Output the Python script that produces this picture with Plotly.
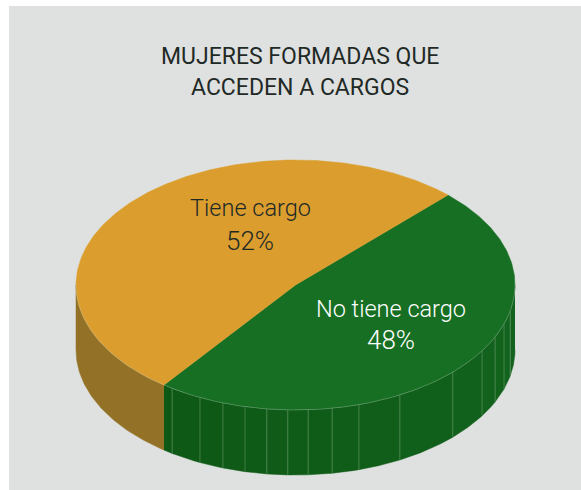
import numpy as np
import plotly.graph_objects as go

# Data
categories = ["No tiene cargo", "Tiene cargo"]
values = [48, 52]
title_lines = ["MUJERES FORMADAS QUE", "ACCEDEN A CARGOS"]

# Style
W, H = 581, 490
PANEL = "#dfe1e0"
TOP = ["#176f24", "#db9e2e"]
WALL_LEFT_GREEN = np.array([13, 88, 21])
WALL_RIGHT_GREEN = np.array([19, 100, 30])
WALL_ORANGE = "#937227"
FONT = "Roboto"
CX, CY, RX, RY, DEPTH = 295.5, 285.0, 219.5, 125.0, 65.0
START = 44.0  # clock angle (deg) of the first slice's start
FACET_ANGLES = [102, 108.2, 114.6, 121.8, 134.2, 151.6, 163.2, 170.4, 176.7,
                182, 187.5, 193.3, 199.3, 205.8, 214.2]


def pt(deg, dz=0.0):
    t = np.radians(np.asarray(deg, dtype=float))
    return CX + RX * np.sin(t), CY - RY * np.cos(t) + dz


spans = []
a = START
for v in values:
    b = a + v / sum(values) * 360
    spans.append((a, b))
    a = b

fig = go.Figure()


def poly(x, y, color):
    fig.add_trace(go.Scatter(x=x, y=y, mode="lines", fill="toself", fillcolor=color,
                             line=dict(width=0.5, color=color), hoverinfo="skip", showlegend=False))


def wall(lo, hi, color):
    th = np.linspace(lo, hi, 80)
    xt, yt = pt(th)
    xb, yb = pt(th, DEPTH)
    poly(np.r_[xt, xb[::-1]], np.r_[yt, yb[::-1]], color)


# Side walls (only the front half is visible)
green_start, green_end = spans[0]
edges = [90.0] + FACET_ANGLES + [green_end]
for lo, hi in zip(edges[:-1], edges[1:]):
    f = (0.5 * (lo + hi) - 90) / (green_end - 90)
    c = WALL_RIGHT_GREEN + (WALL_LEFT_GREEN - WALL_RIGHT_GREEN) * f
    wall(lo, hi, "rgb({:.0f},{:.0f},{:.0f})".format(*c))
wall(green_end, 270, WALL_ORANGE)

# Facet seams on the green wall
for deg in FACET_ANGLES:
    x0, y0 = pt(deg)
    x1, y1 = pt(deg, DEPTH)
    fig.add_trace(go.Scatter(x=[x0, x1], y=[y0, y1], mode="lines",
                             line=dict(color="rgba(170,200,170,0.32)", width=1),
                             hoverinfo="skip", showlegend=False))

# Top slices
for (a, b), top in zip(spans, TOP):
    th = np.linspace(a, b, 240)
    xt, yt = pt(th)
    poly(np.r_[CX, xt, CX], np.r_[CY, yt, CY], top)

# Thin light rim along the front edge of the top face
th = np.linspace(90, 270, 300)
xt, yt = pt(th)
fig.add_trace(go.Scatter(x=xt, y=yt, mode="lines",
                         line=dict(color="rgba(190,205,190,0.5)", width=0.6),
                         hoverinfo="skip", showlegend=False))

# Title, two lines
annotations = [
    dict(x=299.5, y=y, text=t, font=dict(family=FONT, size=23, weight=400, color="#1f2a27"))
    for t, y in zip(title_lines, [56, 87])
]
# Slice labels: name and share on separate rows
DARK, LIGHT = "#1f2a27", "#ffffff"
for name, val, col, x, y_name, y_val in [
    (categories[0], values[0], LIGHT, 391, 309, 340),
    (categories[1], values[1], DARK, 250, 208, 241),
]:
    annotations.append(dict(x=x, y=y_name, text=name,
                            font=dict(family=FONT, size=23.5, weight=300, color=col)))
    annotations.append(dict(x=x, y=y_val, text=f"{val}%",
                            font=dict(family=FONT, size=26, weight=300, color=col)))
for an in annotations:
    an.update(xref="x", yref="y", showarrow=False, xanchor="center", yanchor="middle", align="center")

fig.update_layout(
    width=W, height=H, margin=dict(l=0, r=0, t=0, b=0), autosize=False,
    paper_bgcolor="#ffffff", plot_bgcolor="#ffffff", showlegend=False,
    xaxis=dict(range=[0, W], visible=False, fixedrange=True),
    yaxis=dict(range=[H, 0], visible=False, fixedrange=True),
    annotations=annotations,
    shapes=[dict(type="rect", xref="x", yref="y", x0=9, y0=6, x1=W, y1=H,
                 fillcolor=PANEL, line=dict(width=0), layer="below")],
)
fig.write_html("out.html", config=dict(displayModeBar=False),
               post_script="document.body.style.margin='0';document.body.style.overflow='hidden';")
